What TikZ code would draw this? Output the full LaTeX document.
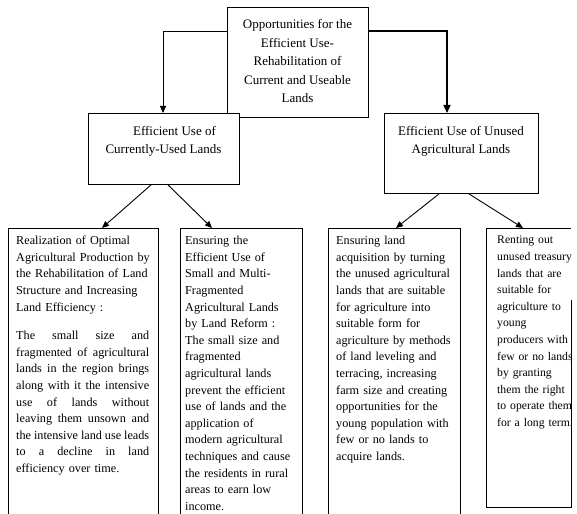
\documentclass[tikz,border=0pt]{standalone}
\usepackage{fontspec}
\setmainfont{Liberation Serif}
\usetikzlibrary{arrows.meta}
\newcommand\jline[1]{\leavevmode\hbox to 133pt{#1}}
\begin{document}
\begin{tikzpicture}[x=1pt,y=-1pt,
  boxst/.style={draw=black,line width=0.9pt,fill=white,inner sep=0pt,anchor=north west},
  emptybox/.style={inner sep=0pt,anchor=north west},
  arr/.style={line width=0.9pt,-{Triangle[length=7pt,width=6pt]}},
  toptext/.style={inner sep=0pt,align=center,font=\fontsize{13}{18.5}\selectfont},
  bodytext/.style={inner sep=0pt,anchor=north west,align=left,font=\fontsize{12.2}{16.6}\selectfont}]
\useasboundingbox (0,0) rectangle (577,513);
\clip (0,0) rectangle (577,513);

% top box
\node[boxst,minimum width=141pt,minimum height=110pt] (top) at (227,7) {};
\node[toptext] (toptx) at (297.5,61) {Opportunities for the\\Efficient Use-\\Rehabilitation of\\Current and Useable\\Lands};

% middle boxes
\node[boxst,minimum width=151pt,minimum height=71pt] (lm) at (88,113) {};
\node[toptext] (lmtx) at (163.5,141.5) {\hspace*{22pt}Efficient Use of\\Currently-Used Lands};
\node[boxst,minimum width=154pt,minimum height=80pt] (rm) at (384,113) {};
\node[toptext] (rmtx) at (461,141.5) {Efficient Use of Unused\\Agricultural Lands};

% bottom boxes
\node[boxst,minimum width=150pt,minimum height=300pt] (b1) at (8,228) {};
\node[boxst,minimum width=122pt,minimum height=300pt] (b2) at (180,228) {};
\node[boxst,minimum width=132pt,minimum height=300pt] (b3) at (328,228) {};
\node[emptybox,minimum width=85pt,minimum height=279pt] (b4) at (486,228) {};
\draw[line width=0.9pt] ([yshift=-72pt]b4.north east) -- (b4.south east) -- (b4.south west) -- (b4.north west) -- (b4.north east);

% texts
\node[bodytext,text width=134pt] (t1) at (16,236) {Realization of Optimal\\
Agricultural Production by\\
the Rehabilitation of Land\\
Structure and Increasing\\
Land Efficiency :\\[12pt]
\jline{The\hfill small\hfill size\hfill and}\\
\jline{fragmented\hfill of\hfill agricultural}\\
\jline{lands\hfill in\hfill the\hfill region\hfill brings}\\
\jline{along\hfill with\hfill it\hfill the\hfill intensive}\\
\jline{use\hfill of\hfill lands\hfill without}\\
\jline{leaving\hfill them\hfill unsown\hfill and}\\
\jline{the\hfill intensive\hfill land\hfill use\hfill leads}\\
\jline{to\hfill a\hfill decline\hfill in\hfill land}\\
efficiency over time.};

\node[bodytext,text width=118pt] (t2) at (185,236) {Ensuring the\\
Efficient Use of\\
Small and Multi-\\
Fragmented\\
Agricultural Lands\\
by Land Reform :\\
The small size and\\
fragmented\\
agricultural lands\\
prevent the efficient\\
use of lands and the\\
application of\\
modern agricultural\\
techniques and cause\\
the residents in rural\\
areas to earn low\\
income.};

\node[bodytext,text width=124pt] (t3) at (336,236) {Ensuring land\\
acquisition by turning\\
the unused agricultural\\
lands that are suitable\\
for agriculture into\\
suitable form for\\
agriculture by methods\\
of land leveling and\\
terracing, increasing\\
farm size and creating\\
opportunities for the\\
young population with\\
few or no lands to\\
acquire lands.};

\node[bodytext,text width=82pt,font=\fontsize{11.7}{16.6}\selectfont] (t4) at (497,236) {Renting out\\
unused treasury\\
lands that are\\
suitable for\\
agriculture to\\
young\\
producers with\\
few or no lands\\
by granting\\
them the right\\
to operate them\\
for a long term.};

% connectors
\draw[arr] ([yshift=-24pt]top.north west) -| ([xshift=75pt]lm.north west);
\draw[line width=1.5pt,-{Triangle[length=8pt,width=7pt]}] ([yshift=-24pt]top.north east) -| ([xshift=63pt]rm.north west);
\draw[arr] ([xshift=63pt]lm.south west) -- ([xshift=94pt]b1.north west);
\draw[arr] ([xshift=80pt]lm.south west) -- ([xshift=32pt]b2.north west);
\draw[arr] ([xshift=55pt]rm.south west) -- ([xshift=68pt]b3.north west);
\draw[arr] ([xshift=85pt]rm.south west) -- ([xshift=37pt]b4.north west);
\end{tikzpicture}
\end{document}
